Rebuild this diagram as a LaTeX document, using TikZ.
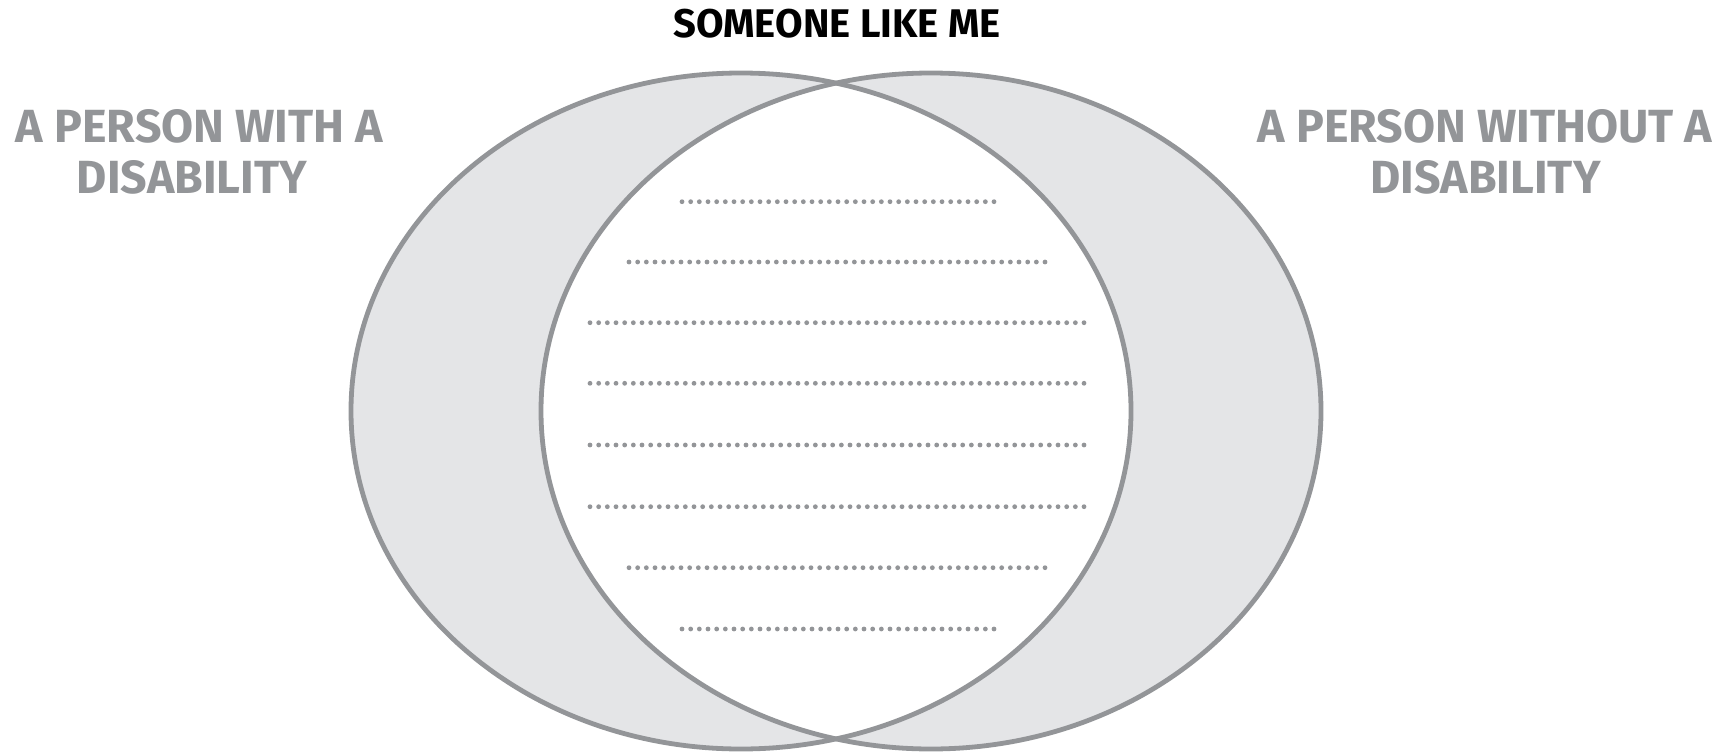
\documentclass[tikz,border=0pt]{standalone}
\usepackage{fontspec}
\setmainfont{Fira Sans}
\newfontfamily\labelfont{Fira Sans}
\definecolor{strokegray}{HTML}{939598}
\definecolor{fillgray}{HTML}{E4E5E7}
\tikzset{
  ring/.style={draw=strokegray, line width=4.8pt},
  dotline/.style={draw=strokegray, line width=4.8pt, line cap=round, dash pattern=on 0pt off 8.667pt},
  titletext/.style={anchor=base, inner sep=0pt, font=\labelfont\bfseries\fontsize{40}{44}\selectfont, text=black},
  sidetext/.style={anchor=base, inner sep=0pt, font=\labelfont\bfseries\fontsize{46.5}{51}\selectfont, text=strokegray}
}
\begin{document}
\begin{tikzpicture}[x=1pt,y=-1pt]
\useasboundingbox (0,0) rectangle (1727,752);
\coordinate (cl) at (741,411);
\coordinate (cr) at (931,411);
\fill[fillgray] (cl) ellipse [x radius=390pt, y radius=338pt];
\fill[fillgray] (cr) ellipse [x radius=390pt, y radius=338pt];
\begin{scope}
  \clip (cl) ellipse [x radius=390pt, y radius=338pt];
  \fill[white] (cr) ellipse [x radius=390pt, y radius=338pt];
\end{scope}
\draw[ring] (cl) ellipse [x radius=390pt, y radius=338pt];
\draw[ring] (cr) ellipse [x radius=390pt, y radius=338pt];
\foreach \y/\a/\b in {201.7/682/994.3, 262/629/1045.3, 322.7/590/1084.3, 383.3/590/1084.3, 445/590/1084.3, 506.7/590/1084.3, 567.7/629/1045.3, 629/682/994.3}
  \draw[dotline] (\a,\y) -- (\b,\y);
\node[titletext] (title) at (837,38) {SOMEONE LIKE ME};
\node[sidetext] (with1) at (199.5,142) {A PERSON WITH A};
\node[sidetext] (with2) at (192,193) {DISABILITY};
\node[sidetext] (without1) at (1485,142) {A PERSON WITHOUT A};
\node[sidetext] (without2) at (1485.5,193) {DISABILITY};
\end{tikzpicture}
\end{document}
